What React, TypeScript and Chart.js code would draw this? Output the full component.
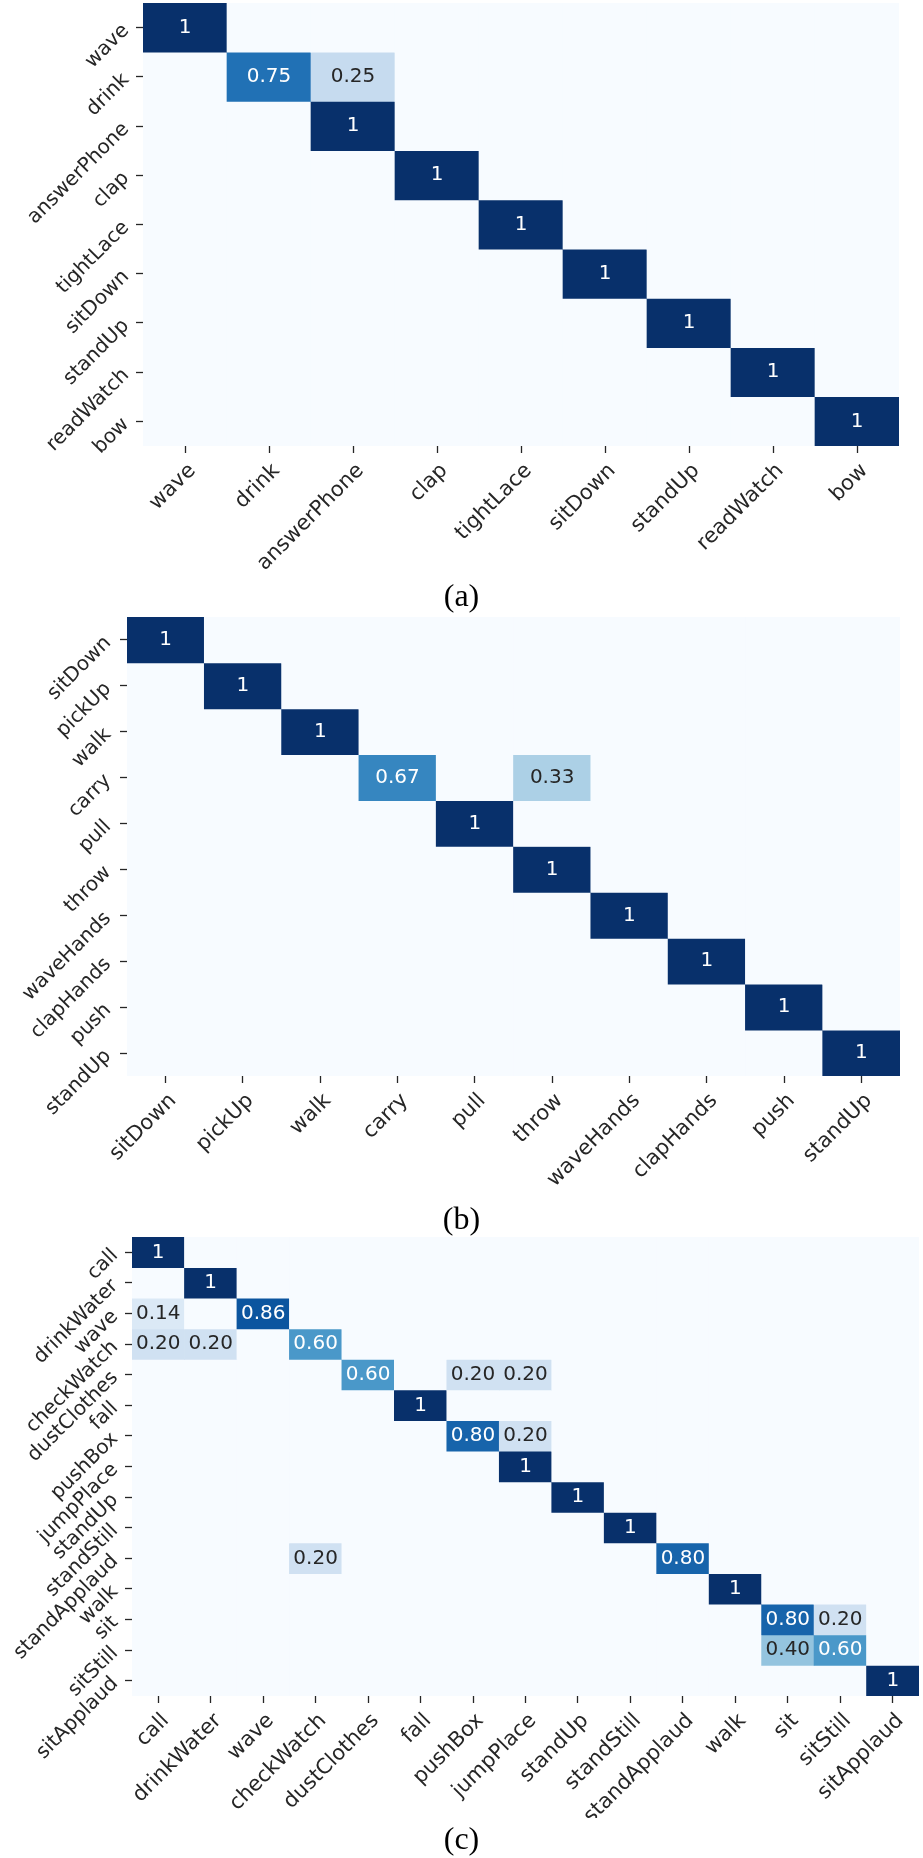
import React, { useEffect, useRef } from "react";
import { Chart, registerables } from "chart.js";

Chart.register(...registerables);

// ---- (a) ----
const classesA = ["wave", "drink", "answerPhone", "clap", "tightLace", "sitDown", "standUp", "readWatch", "bow"];
const matrixA = [
  [1, 0, 0, 0, 0, 0, 0, 0, 0],
  [0, 0.75, 0.25, 0, 0, 0, 0, 0, 0],
  [0, 0, 1, 0, 0, 0, 0, 0, 0],
  [0, 0, 0, 1, 0, 0, 0, 0, 0],
  [0, 0, 0, 0, 1, 0, 0, 0, 0],
  [0, 0, 0, 0, 0, 1, 0, 0, 0],
  [0, 0, 0, 0, 0, 0, 1, 0, 0],
  [0, 0, 0, 0, 0, 0, 0, 1, 0],
  [0, 0, 0, 0, 0, 0, 0, 0, 1],
];

// ---- (b) ----
const classesB = ["sitDown", "pickUp", "walk", "carry", "pull", "throw", "waveHands", "clapHands", "push", "standUp"];
const matrixB = [
  [1, 0, 0, 0, 0, 0, 0, 0, 0, 0],
  [0, 1, 0, 0, 0, 0, 0, 0, 0, 0],
  [0, 0, 1, 0, 0, 0, 0, 0, 0, 0],
  [0, 0, 0, 0.67, 0, 0.33, 0, 0, 0, 0],
  [0, 0, 0, 0, 1, 0, 0, 0, 0, 0],
  [0, 0, 0, 0, 0, 1, 0, 0, 0, 0],
  [0, 0, 0, 0, 0, 0, 1, 0, 0, 0],
  [0, 0, 0, 0, 0, 0, 0, 1, 0, 0],
  [0, 0, 0, 0, 0, 0, 0, 0, 1, 0],
  [0, 0, 0, 0, 0, 0, 0, 0, 0, 1],
];

// ---- (c) ----
const classesC = [
  "call", "drinkWater", "wave", "checkWatch", "dustClothes", "fall", "pushBox", "jumpPlace",
  "standUp", "standStill", "standApplaud", "walk", "sit", "sitStill", "sitApplaud",
];
const matrixC = [
  [1, 0, 0, 0, 0, 0, 0, 0, 0, 0, 0, 0, 0, 0, 0],
  [0, 1, 0, 0, 0, 0, 0, 0, 0, 0, 0, 0, 0, 0, 0],
  [0.14, 0, 0.86, 0, 0, 0, 0, 0, 0, 0, 0, 0, 0, 0, 0],
  [0.2, 0.2, 0, 0.6, 0, 0, 0, 0, 0, 0, 0, 0, 0, 0, 0],
  [0, 0, 0, 0, 0.6, 0, 0.2, 0.2, 0, 0, 0, 0, 0, 0, 0],
  [0, 0, 0, 0, 0, 1, 0, 0, 0, 0, 0, 0, 0, 0, 0],
  [0, 0, 0, 0, 0, 0, 0.8, 0.2, 0, 0, 0, 0, 0, 0, 0],
  [0, 0, 0, 0, 0, 0, 0, 1, 0, 0, 0, 0, 0, 0, 0],
  [0, 0, 0, 0, 0, 0, 0, 0, 1, 0, 0, 0, 0, 0, 0],
  [0, 0, 0, 0, 0, 0, 0, 0, 0, 1, 0, 0, 0, 0, 0],
  [0, 0, 0, 0.2, 0, 0, 0, 0, 0, 0, 0.8, 0, 0, 0, 0],
  [0, 0, 0, 0, 0, 0, 0, 0, 0, 0, 0, 1, 0, 0, 0],
  [0, 0, 0, 0, 0, 0, 0, 0, 0, 0, 0, 0, 0.8, 0.2, 0],
  [0, 0, 0, 0, 0, 0, 0, 0, 0, 0, 0, 0, 0.4, 0.6, 0],
  [0, 0, 0, 0, 0, 0, 0, 0, 0, 0, 0, 0, 0, 0, 1],
];

// Sequential "Blues" palette (ColorBrewer, 9 steps)
const BLUES = ["#f7fbff", "#deebf7", "#c6dbef", "#9ecae1", "#6baed6", "#4292c6", "#2171b5", "#08519c", "#08306b"];

function hexToRgb(h: string): number[] {
  return [parseInt(h.slice(1, 3), 16), parseInt(h.slice(3, 5), 16), parseInt(h.slice(5, 7), 16)];
}

function bluesRgb(t: number): number[] {
  const p = Math.min(Math.max(t, 0), 1) * (BLUES.length - 1);
  const i = Math.min(Math.floor(p), BLUES.length - 2);
  const f = p - i;
  const a = hexToRgb(BLUES[i]);
  const b = hexToRgb(BLUES[i + 1]);
  return a.map((v, k) => Math.round(v + (b[k] - v) * f));
}

function bluesCss(t: number): string {
  const [r, g, b] = bluesRgb(t);
  return `rgb(${r},${g},${b})`;
}

function luminance(rgb: number[]): number {
  const lin = rgb.map((v) => {
    const c = v / 255;
    return c <= 0.03928 ? c / 12.92 : Math.pow((c + 0.055) / 1.055, 2.4);
  });
  return 0.2126 * lin[0] + 0.7152 * lin[1] + 0.0722 * lin[2];
}

const formatCell = (v: number) => (v === 1 ? "1" : v.toFixed(2));

const TEXT_DARK = "#262626";
const FONT_FAMILY = "'DejaVu Sans', sans-serif";
const Y_LABEL_FONT = { family: FONT_FAMILY, size: 20 };
const X_LABEL_SIZE = 21;
const TICK_LEN = 7;
const X_LABEL_PAD = 7;

// Writes each non-zero value in the middle of its cell
function cellValues(matrix: number[][]) {
  return {
    id: "cellValues",
    afterDatasetsDraw(chart: any) {
      const { ctx } = chart;
      ctx.save();
      ctx.font = `20px ${FONT_FAMILY}`;
      ctx.textAlign = "center";
      ctx.textBaseline = "middle";
      matrix.forEach((row, r) => {
        const meta = chart.getDatasetMeta(r);
        row.forEach((v, c) => {
          if (!v) return;
          const bar = meta.data[c];
          const { x, y, base } = bar.getProps(["x", "y", "base"], true);
          ctx.fillStyle = luminance(bluesRgb(v)) > 0.408 ? TEXT_DARK : "#ffffff";
          ctx.fillText(formatCell(v), x, (y + base) / 2);
        });
      });
      ctx.restore();
    },
  };
}

// Column names under the x axis, slanted 45 degrees and hung from the
// top-right corner of each name at its tick
function slantedXLabels(classes: string[]) {
  return {
    id: "slantedXLabels",
    afterDraw(chart: any) {
      const xs = chart.scales.x;
      const { ctx } = chart;
      const y0 = xs.top + TICK_LEN + X_LABEL_PAD;
      ctx.save();
      ctx.font = `${X_LABEL_SIZE}px ${FONT_FAMILY}`;
      ctx.fillStyle = TEXT_DARK;
      ctx.textAlign = "right";
      ctx.textBaseline = "alphabetic";
      classes.forEach((name, i) => {
        const x = xs.getPixelForTick(i);
        ctx.save();
        ctx.translate(x, y0);
        ctx.rotate(-Math.PI / 4);
        ctx.fillText(name, 0, X_LABEL_SIZE * 0.76);
        ctx.restore();
      });
      ctx.restore();
    },
  };
}

type Area = { left: number; top: number; right: number; bottom: number };

function Heatmap(props: {
  classes: string[];
  matrix: number[][];
  width: number;
  height: number;
  top: number;
  area: Area;
  yPad: number;
}) {
  const ref = useRef<HTMLCanvasElement>(null);
  const { classes, matrix, width, height, top, area, yPad } = props;

  useEffect(() => {
    const n = classes.length;
    const datasets = matrix.map((row, r) => ({
      label: classes[r],
      data: row.map(() => [r, r + 1]),
      backgroundColor: row.map((v) => bluesCss(v)),
      borderWidth: 0,
      grouped: false,
      barPercentage: 1,
      categoryPercentage: 1,
    }));

    const tickGrid = {
      display: true,
      drawOnChartArea: false,
      drawTicks: true,
      tickLength: TICK_LEN,
      tickColor: TEXT_DARK,
      tickWidth: 1.3,
      offset: false,
    };

    const chart = new Chart(ref.current as HTMLCanvasElement, {
      type: "bar",
      data: { labels: classes, datasets: datasets as any },
      options: {
        responsive: false,
        animation: false,
        events: [],
        layout: { padding: { left: 0, top: area.top, right: width - area.right, bottom: 0 } },
        plugins: {
          legend: { display: false },
          tooltip: { enabled: false },
          title: { display: false },
        },
        scales: {
          x: {
            type: "category",
            offset: true,
            grid: tickGrid,
            border: { display: false },
            ticks: { display: false, autoSkip: false },
            afterFit: (s: any) => {
              s.height = height - area.bottom;
              s.paddingLeft = 0;
              s.paddingRight = 0;
            },
          },
          y: {
            type: "linear",
            min: 0,
            max: n,
            reverse: true,
            grid: tickGrid,
            border: { display: false },
            afterBuildTicks: (s: any) => {
              s.ticks = classes.map((_, i) => ({ value: i + 0.5 }));
            },
            ticks: {
              autoSkip: false,
              minRotation: 45,
              maxRotation: 45,
              padding: yPad,
              color: TEXT_DARK,
              font: Y_LABEL_FONT,
              callback: (_v: any, i: number) => classes[i],
            },
            afterFit: (s: any) => {
              s.width = area.left;
              s.paddingTop = 0;
              s.paddingBottom = 0;
            },
          },
        } as any,
      },
      plugins: [cellValues(matrix), slantedXLabels(classes)],
    });
    return () => chart.destroy();
  }, []);

  return (
    <canvas
      ref={ref}
      width={width}
      height={height}
      style={{ position: "absolute", left: 0, top, width, height }}
    />
  );
}

function Caption(props: { text: string; centerY: number }) {
  return (
    <div
      style={{
        position: "absolute",
        left: 0,
        width: 923,
        top: props.centerY - 19,
        height: 38,
        lineHeight: "38px",
        textAlign: "center",
        fontFamily: "'Liberation Serif', 'Times New Roman', serif",
        fontSize: 32,
        color: "#000",
      }}
    >
      {props.text}
    </div>
  );
}

export default function App() {
  return (
    <div
      style={{
        position: "absolute",
        left: 0,
        top: 0,
        width: 923,
        height: 1858,
        background: "#ffffff",
        overflow: "hidden",
      }}
    >
      <Heatmap
        classes={classesA}
        matrix={matrixA}
        width={923}
        height={580}
        top={0}
        area={{ left: 143, top: 3, right: 899, bottom: 446 }}
        yPad={10}
      />
      <Caption text="(a)" centerY={595} />
      <Heatmap
        classes={classesB}
        matrix={matrixB}
        width={923}
        height={600}
        top={600}
        area={{ left: 127, top: 17, right: 900, bottom: 476 }}
        yPad={12}
      />
      <Caption text="(b)" centerY={1218} />
      <Heatmap
        classes={classesC}
        matrix={matrixC}
        width={923}
        height={586}
        top={1232}
        area={{ left: 132, top: 5, right: 919, bottom: 464 }}
        yPad={10}
      />
      <Caption text="(c)" centerY={1838} />
    </div>
  );
}
